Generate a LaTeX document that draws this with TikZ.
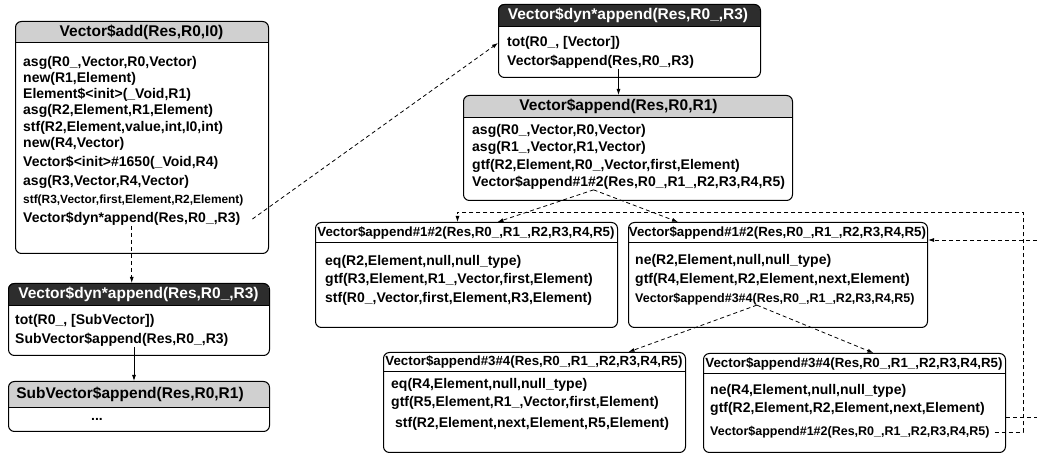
\documentclass[tikz,border=0pt]{standalone}
\usepackage{fontspec}
\setmainfont{Liberation Sans}
\usetikzlibrary{arrows.meta,calc}
\definecolor{hdrgray}{RGB}{208,208,208}
\definecolor{hdrdark}{RGB}{45,45,45}
\tikzset{
 box/.style={draw, line width=1pt, rounded corners=6pt, inner sep=0pt, anchor=north west},
 hdr/.style={font=\fontsize{15.5}{17}\selectfont\bfseries, inner sep=0pt},
 hdrsm/.style={font=\fontsize{13.3}{15}\selectfont\bfseries, inner sep=0pt},
 ln/.style={font=\fontsize{14}{16}\selectfont\bfseries, inner sep=0pt, anchor=west},
 lnsm/.style={font=\fontsize{12.5}{14}\selectfont\bfseries, inner sep=0pt, anchor=west},
 lnxs/.style={font=\fontsize{11.9}{14}\selectfont\bfseries, inner sep=0pt, anchor=west},
 call/.style={line width=0.8pt, dash pattern=on 4pt off 3pt},
 flow/.style={line width=0.8pt},
 tip/.style={-{Latex[length=6pt,width=4pt]}},
}
\newcommand\mkbox[7]{%
 \begin{scope}
 \clip[rounded corners=6pt] (#2,#3) rectangle (#4,#5);
 \fill[#7] (#2,#3) rectangle (#4,#6);
 \end{scope}
 \node[box, minimum width={#4-#2}, minimum height={#5-#3}] (#1) at (#2,#3) {};
 \draw[line width=1pt] (#2,#6) -- (#4,#6);
}
\begin{document}
\begin{tikzpicture}[x=1pt,y=-1pt]
\useasboundingbox (0,0) rectangle (1037,454);
% Box A
\mkbox{A}{15}{21}{268}{253}{43}{hdrgray}
\node[hdr] (Ah) at (141.5,32) {Vector\$add(Res,R0,I0)};
\node[ln] (A1) at (23,63) {asg(R0\_,Vector,R0,Vector)};
\node[ln] (A2) at (23,79) {new(R1,Element)};
\node[ln] (A3) at (23,95) {Element\$<init>(\_Void,R1)};
\node[ln] (A4) at (23,111) {asg(R2,Element,R1,Element)};
\node[ln] (A5) at (23,128) {stf(R2,Element,value,int,I0,int)};
\node[ln] (A6) at (23,144) {new(R4,Vector)};
\node[ln] (A7) at (23,163) {Vector\$<init>\#1650(\_Void,R4)};
\node[ln] (A8) at (23,182) {asg(R3,Vector,R4,Vector)};
\node[lnxs] (A9) at (23,200) {stf(R3,Vector,first,Element,R2,Element)};
\node[ln] (A10) at (23,219) {Vector\$dyn*append(Res,R0\_,R3)};
% Box B
\mkbox{B}{8}{283}{269}{355}{306}{hdrdark}
\node[hdr,text=white] (Bh) at (138.5,294.5) {Vector\$dyn*append(Res,R0\_,R3)};
\node[ln] (B1) at (15,321) {tot(R0\_, [SubVector])};
\node[ln] (B2) at (15,340) {SubVector\$append(Res,R0\_,R3)};
% Box C
\mkbox{C}{8}{381}{269}{431}{408}{hdrgray}
\node[hdr] (Ch) at (130,394.5) {SubVector\$append(Res,R0,R1)};
\node[ln,anchor=center] (C1) at (97,419) {...};
% Box D
\mkbox{D}{498}{4}{760}{77}{27}{hdrdark}
\node[hdr,text=white] (Dh) at (628,15.5) {Vector\$dyn*append(Res,R0\_,R3)};
\node[ln] (D1) at (507,43) {tot(R0\_, [Vector])};
\node[ln] (D2) at (507,62) {Vector\$append(Res,R0\_,R3)};
% Box E
\mkbox{E}{463}{95}{792}{200}{118}{hdrgray}
\node[hdr] (Eh) at (618.5,106.5) {Vector\$append(Res,R0,R1)};
\node[ln] (E1) at (472,131) {asg(R0\_,Vector,R0,Vector)};
\node[ln] (E2) at (472,148) {asg(R1\_,Vector,R1,Vector)};
\node[ln] (E3) at (472,166) {gtf(R2,Element,R0\_,Vector,first,Element)};
\node[ln] (E4) at (472,183) {Vector\$append\#1\#2(Res,R0\_,R1\_,R2,R3,R4,R5)};
% Box F1
\mkbox{F1}{315}{222}{617}{327}{243}{white}
\node[hdrsm] (F1h) at (466,232.5) {Vector\$append\#1\#2(Res,R0\_,R1\_,R2,R3,R4,R5)};
\node[ln] (F11) at (325,262) {eq(R2,Element,null,null\_type)};
\node[ln] (F12) at (325,280) {gtf(R3,Element,R1\_,Vector,first,Element)};
\node[ln] (F13) at (325,299) {stf(R0\_,Vector,first,Element,R3,Element)};
% Box F2
\mkbox{F2}{628}{222}{927}{327}{243}{white}
\node[hdrsm] (F2h) at (777.5,232.5) {Vector\$append\#1\#2(Res,R0\_,R1\_,R2,R3,R4,R5)};
\node[ln] (F21) at (635,261) {ne(R2,Element,null,null\_type)};
\node[ln] (F22) at (635,280) {gtf(R4,Element,R2,Element,next,Element)};
\node[lnsm] (F23) at (635,299) {Vector\$append\#3\#4(Res,R0\_,R1\_,R2,R3,R4,R5)};
% Box G1
\mkbox{G1}{383}{352}{685}{452}{372}{white}
\node[hdrsm] (G1h) at (534,362) {Vector\$append\#3\#4(Res,R0\_,R1\_,R2,R3,R4,R5)};
\node[ln] (G11) at (391,385) {eq(R4,Element,null,null\_type)};
\node[ln] (G12) at (391,403) {gtf(R5,Element,R1\_,Vector,first,Element)};
\node[ln] (G13) at (395,424) {stf(R2,Element,next,Element,R5,Element)};
% Box G2
\mkbox{G2}{703}{353}{1005}{452}{374}{white}
\node[hdrsm] (G2h) at (854,363.5) {Vector\$append\#3\#4(Res,R0\_,R1\_,R2,R3,R4,R5)};
\node[ln] (G21) at (710,391) {ne(R4,Element,null,null\_type)};
\node[ln] (G22) at (710,409) {gtf(R2,Element,R2,Element,next,Element)};
\node[lnsm] (G23) at (710,432) {Vector\$append\#1\#2(Res,R0\_,R1\_,R2,R3,R4,R5)};
% connectors
\draw[call,tip] (A10.south) -- (A10.south |- B.north);
\coordinate (cin) at ([xshift=-5pt]C.north);
\draw[flow,tip] (cin |- B2.south) -- (cin);
\draw[call,tip] ([xshift=12pt]A10.east) -- (D1.west -| D.west);
\draw[flow,tip] (D2.south -| Eh) -- (Eh |- E.north);
\coordinate (es) at ([xshift=-35pt]E4.south);
\draw[call,tip] (es) -- ([xshift=31pt]F1.north);
\draw[call,tip] (es) -- ([xshift=-100pt]F2.north);
\coordinate (fs) at ([xshift=-18pt]F23.south);
\draw[call,tip] (fs) -- ([xshift=94pt]G1.north);
\draw[call,tip] (fs) -- ([xshift=19pt]G2.north);
\coordinate (lp) at (1023,212);
\coordinate (ft) at ([xshift=-9pt]F1.north);
\draw[call,tip] ([xshift=5pt]G23.east) -| (lp) -| (ft);
\coordinate (r1) at (1037,417);
\draw[call] (G2.east |- r1) -- (r1);
\coordinate (r2) at (1037,240);
\draw[call,tip] (r2) -- (F2.east |- r2);
\end{tikzpicture}
\end{document}
